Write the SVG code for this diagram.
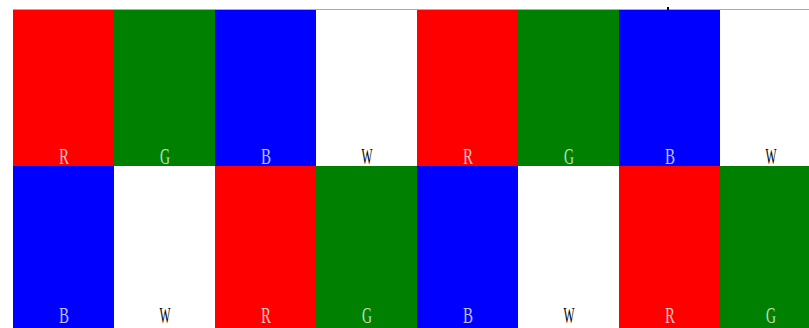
<svg xmlns="http://www.w3.org/2000/svg" width="809" height="328" viewBox="0 0 809 328">
<style>
.r{fill:#ff0000}.g{fill:#008000}.b{fill:#0000ff}.w{fill:#ffffff}
text{font-family:"Liberation Serif","DejaVu Serif",serif;font-size:23px;text-anchor:middle}
.lt{fill:#ffffff;fill-opacity:0.75}.dk{fill:#000000}
</style>
<rect width="809" height="328" fill="#ffffff"/>
<line x1="13" y1="9.5" x2="809" y2="9.5" stroke="#b0aaa4" stroke-width="1"/>
<rect x="667" y="7" width="2" height="3" fill="#000000"/>
<g id="top-row">
<g id="t1"><rect class="r" x="13" y="10" width="101" height="156"/><text class="lt" x="64" y="164" textLength="10" lengthAdjust="spacingAndGlyphs">R</text></g>
<g id="t2"><rect class="g" x="114" y="10" width="101" height="156"/><text class="lt" x="165" y="164" textLength="10" lengthAdjust="spacingAndGlyphs">G</text></g>
<g id="t3"><rect class="b" x="215" y="10" width="101" height="156"/><text class="lt" x="266" y="164" textLength="10" lengthAdjust="spacingAndGlyphs">B</text></g>
<g id="t4"><rect class="w" x="316" y="10" width="101" height="156"/><text class="dk" x="367" y="164" textLength="11" lengthAdjust="spacingAndGlyphs">W</text></g>
<g id="t5"><rect class="r" x="417" y="10" width="101" height="156"/><text class="lt" x="468" y="164" textLength="10" lengthAdjust="spacingAndGlyphs">R</text></g>
<g id="t6"><rect class="g" x="518" y="10" width="101" height="156"/><text class="lt" x="569" y="164" textLength="10" lengthAdjust="spacingAndGlyphs">G</text></g>
<g id="t7"><rect class="b" x="619" y="10" width="101" height="156"/><text class="lt" x="670" y="164" textLength="10" lengthAdjust="spacingAndGlyphs">B</text></g>
<g id="t8"><rect class="w" x="720" y="10" width="101" height="156"/><text class="dk" x="771" y="164" textLength="11" lengthAdjust="spacingAndGlyphs">W</text></g>
</g>
<g id="bottom-row">
<g id="b1"><rect class="b" x="13" y="166" width="101" height="162"/><text class="lt" x="64" y="323" textLength="10" lengthAdjust="spacingAndGlyphs">B</text></g>
<g id="b2"><rect class="w" x="114" y="166" width="101" height="162"/><text class="dk" x="165" y="323" textLength="11" lengthAdjust="spacingAndGlyphs">W</text></g>
<g id="b3"><rect class="r" x="215" y="166" width="101" height="162"/><text class="lt" x="266" y="323" textLength="10" lengthAdjust="spacingAndGlyphs">R</text></g>
<g id="b4"><rect class="g" x="316" y="166" width="101" height="162"/><text class="lt" x="367" y="323" textLength="10" lengthAdjust="spacingAndGlyphs">G</text></g>
<g id="b5"><rect class="b" x="417" y="166" width="101" height="162"/><text class="lt" x="468" y="323" textLength="10" lengthAdjust="spacingAndGlyphs">B</text></g>
<g id="b6"><rect class="w" x="518" y="166" width="101" height="162"/><text class="dk" x="569" y="323" textLength="11" lengthAdjust="spacingAndGlyphs">W</text></g>
<g id="b7"><rect class="r" x="619" y="166" width="101" height="162"/><text class="lt" x="670" y="323" textLength="10" lengthAdjust="spacingAndGlyphs">R</text></g>
<g id="b8"><rect class="g" x="720" y="166" width="101" height="162"/><text class="lt" x="771" y="323" textLength="10" lengthAdjust="spacingAndGlyphs">G</text></g>
</g>
</svg>
